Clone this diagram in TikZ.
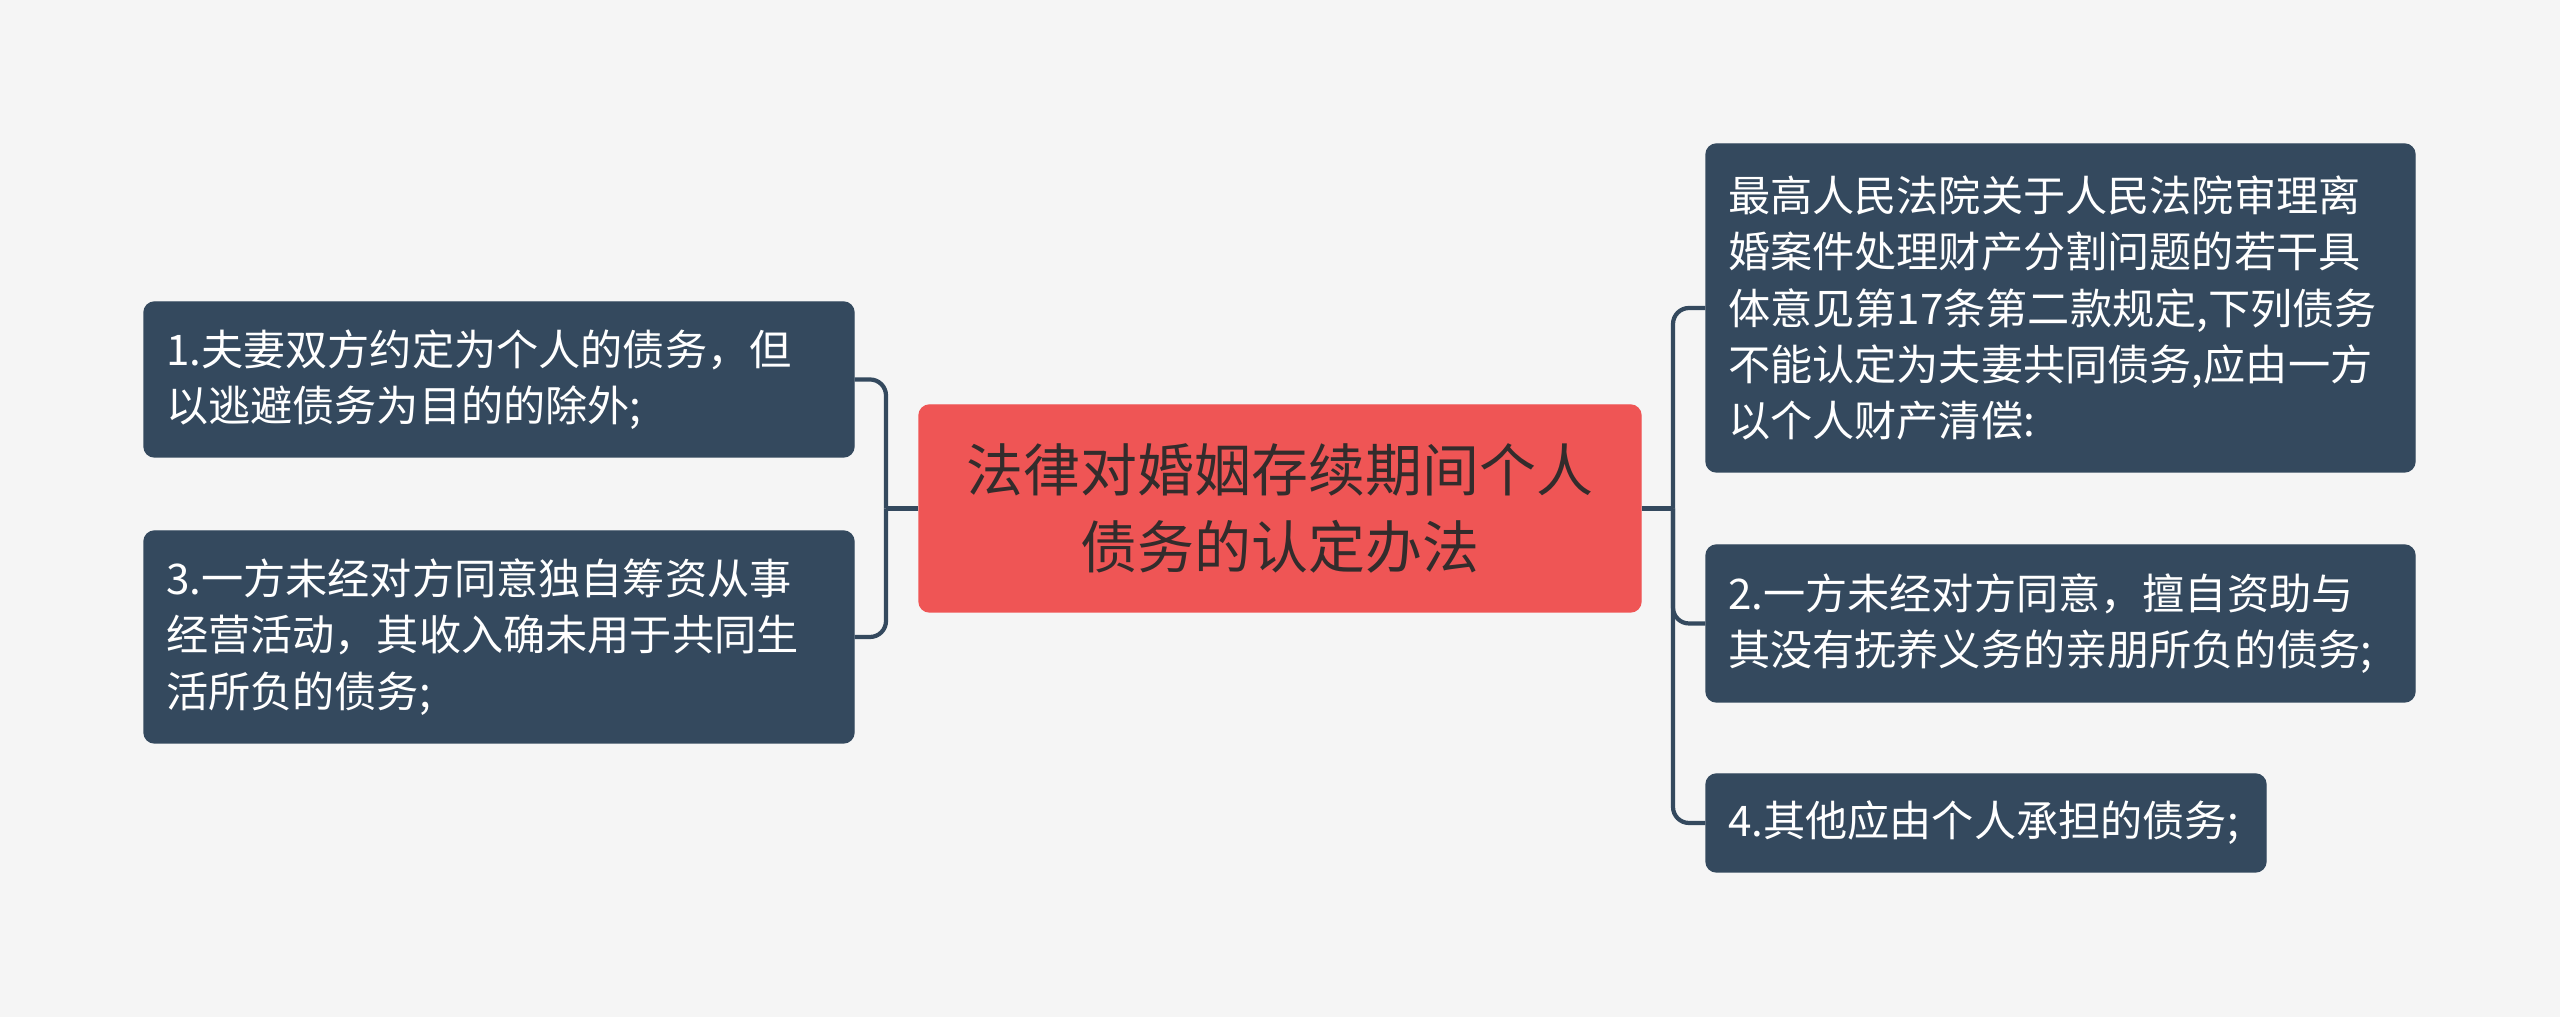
\documentclass[tikz,border=0pt]{standalone}
\usepackage{fontspec}
\setmainfont{Noto Sans CJK SC}
\definecolor{PageGray}{RGB}{245,245,245}
\definecolor{NodeBlue}{RGB}{52,73,94}
\definecolor{TitleRed}{RGB}{239,85,85}
\definecolor{TitleText}{RGB}{51,44,44}
\usetikzlibrary{positioning}

\begin{document}
\begin{tikzpicture}[
    branch/.style={draw=NodeBlue, fill=NodeBlue, rounded corners=3pt, text=white,
      align=left, inner xsep=0.22cm, inner ysep=0pt,
      font=\fontsize{12pt}{16pt}\selectfont},
    topic/.style={draw=TitleRed, fill=TitleRed, rounded corners=3pt, text=TitleText,
      align=center, minimum width=7.22cm, minimum height=2.07cm,
      font=\fontsize{16.2pt}{22pt}\selectfont},
    link/.style={NodeBlue, line width=1.2pt}
  ]
  \fill[PageGray] (0,0) rectangle (25.6,10.17);
  \useasboundingbox (0,0) rectangle (25.6,10.17);

  \node[topic] (title) at (12.80,5.085) {法律对婚姻存续期间个人\\债务的认定办法};

  \node[branch, text width=6.66cm, minimum height=1.55cm] (l1) at (4.99,6.375)
    {1.夫妻双方约定为个人的债务，但\\以逃避债务为目的的除外;};
  \node[branch, text width=6.66cm, minimum height=2.12cm] (l3) at (4.99,3.80)
    {3.一方未经对方同意独自筹资从事\\经营活动，其收入确未用于共同生\\活所负的债务;};

  \node[branch, text width=6.65cm, minimum height=3.28cm] (r0) at (20.605,7.09)
    {最高人民法院关于人民法院审理离\\婚案件处理财产分割问题的若干具\\体意见第17条第二款规定,下列债务\\不能认定为夫妻共同债务,应由一方\\以个人财产清偿:};
  \node[branch, text width=6.65cm, minimum height=1.57cm] (r2) at (20.605,3.935)
    {2.一方未经对方同意，擅自资助与\\其没有抚养义务的亲朋所负的债务;};
  \node[branch, text width=5.16cm, minimum height=0.98cm] (r4) at (19.86,1.94)
    {4.其他应由个人承担的债务;};

  \coordinate (tl) at (8.86,5.085);
  \coordinate (tr) at (16.73,5.085);
  \draw[link] (title.west) -- (tl);
  \draw[link] (title.east) -- (tr);
  \foreach \n in {l1,l3}
    \draw[link, rounded corners=0.16cm] (tl) |- (\n.east);
  \foreach \n in {r0,r2,r4}
    \draw[link, rounded corners=0.16cm] (tr) |- (\n.west);
\end{tikzpicture}
\end{document}
